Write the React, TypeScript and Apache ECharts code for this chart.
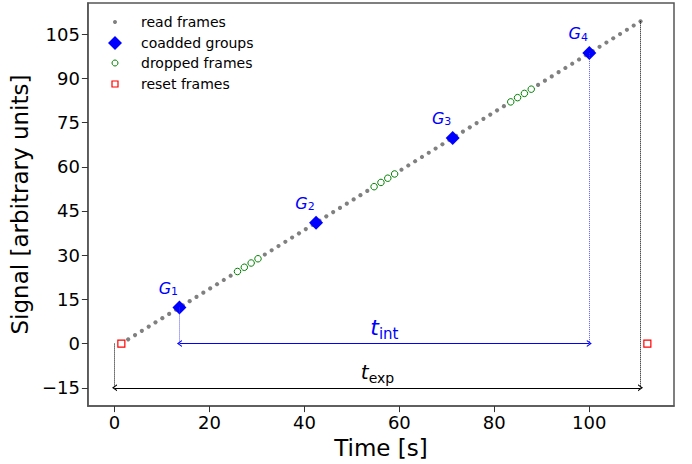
import React, { useEffect, useRef } from 'react';
import * as echarts from 'echarts';

// ---- data ----
const readTime = [
  2.88, 4.32, 5.76, 7.2, 8.63, 10.07, 11.51, 12.95, 14.39, 15.83, 17.27, 18.71, 20.15, 21.59, 23.02, 24.46,
  31.66, 33.1, 34.54, 35.98, 37.41, 38.85, 40.29, 41.73, 43.17, 44.61, 46.05, 47.49, 48.93, 50.37, 51.8, 53.24,
  60.44, 61.88, 63.32, 64.76, 66.19, 67.63, 69.07, 70.51, 71.95, 73.39, 74.83, 76.27, 77.71, 79.15, 80.58, 82.02,
  89.22, 90.66, 92.1, 93.54, 94.97, 96.41, 97.85, 99.29, 100.73, 102.17, 103.61, 105.05, 106.49, 107.93, 109.36, 110.8,
];
const readSignal = [
  1.44, 2.88, 4.32, 5.76, 7.2, 8.63, 10.07, 11.51, 12.95, 14.39, 15.83, 17.27, 18.71, 20.15, 21.59, 23.02,
  30.22, 31.66, 33.1, 34.54, 35.98, 37.41, 38.85, 40.29, 41.73, 43.17, 44.61, 46.05, 47.49, 48.93, 50.37, 51.8,
  59.0, 60.44, 61.88, 63.32, 64.76, 66.19, 67.63, 69.07, 70.51, 71.95, 73.39, 74.83, 76.27, 77.71, 79.15, 80.58,
  87.78, 89.22, 90.66, 92.1, 93.54, 94.97, 96.41, 97.85, 99.29, 100.73, 102.17, 103.61, 105.05, 106.49, 107.93, 109.36,
];
const droppedTime = [25.9, 27.34, 28.78, 30.22, 54.68, 56.12, 57.56, 59.0, 83.46, 84.9, 86.34, 87.78];
const droppedSignal = [24.46, 25.9, 27.34, 28.78, 53.24, 54.68, 56.12, 57.56, 82.02, 83.46, 84.9, 86.34];
const groupTime = [13.67, 42.45, 71.23, 100.01];
const groupSignal = [12.23, 41.01, 69.79, 98.57];
const groupNames = ['1', '2', '3', '4'];
const resetTime = [1.44, 112.24];
const resetSignal = [0, 0];

const expStart = 0;
const expEnd = 110.8;
const expLevel = -15;
const intLevel = 0;

const xTicks = [0, 20, 40, 60, 80, 100];
const yTicks = [-15, 0, 15, 30, 45, 60, 75, 90, 105];
const xRange = [-5.61, 117.85];
const yRange = [-21.22, 115.58];

const FONT = 'DejaVu Sans';

const pairs = (xs: number[], ys: number[]) => xs.map((x, i) => [x, ys[i]]);

export default function App() {
  const ref = useRef<HTMLDivElement>(null);
  useEffect(() => {
    if (!ref.current) return;
    const chart = echarts.init(ref.current, undefined, { renderer: 'svg' });
    const intStart = groupTime[0];
    const intEnd = groupTime[groupTime.length - 1];
    const lastSignal = readSignal[readSignal.length - 1];
    const chev = 'path://M0,10 L5,0 L10,10 L8.2,10 L5,3.6 L1.8,10 Z';
    const dotBlack = { color: '#000', width: 1, type: 'dotted' as const };
    const dotBlue = { color: '#3333ff', width: 1, type: 'dotted' as const, opacity: 0.8 };
    const minus = (v: number) => String(v).replace('-', '\u2212');
    const axisColor = '#555';

    const option: any = {
      animation: false,
      grid: {
        left: 87, top: 3, width: 587, height: 404,
        show: true, borderColor: axisColor, borderWidth: 1.5,
      },
      xAxis: {
        type: 'value', min: xRange[0], max: xRange[1],
        name: 'Time [s]', nameLocation: 'middle', nameGap: 26,
        nameTextStyle: { fontFamily: FONT, fontSize: 23, color: '#000' },
        axisLine: { show: true, onZero: false, lineStyle: { color: axisColor, width: 1.5 } },
        axisTick: { show: true, inside: false, length: 6, customValues: xTicks, lineStyle: { color: '#333', width: 1 } },
        axisLabel: { customValues: xTicks, fontFamily: FONT, fontSize: 18, color: '#000', margin: 7, formatter: minus },
        splitLine: { show: false },
      },
      yAxis: {
        type: 'value', min: yRange[0], max: yRange[1],
        name: 'Signal [arbitrary units]', nameLocation: 'middle', nameGap: 43,
        nameTextStyle: { fontFamily: FONT, fontSize: 23, color: '#000' },
        axisLine: { show: true, onZero: false, lineStyle: { color: axisColor, width: 1.5 } },
        axisTick: { show: true, inside: false, length: 6, customValues: yTicks, lineStyle: { color: '#333', width: 1 } },
        axisLabel: { customValues: yTicks, fontFamily: FONT, fontSize: 18, color: '#000', margin: 8, formatter: minus },
        splitLine: { show: false },
      },
      series: [
        {
          type: 'scatter', name: 'read frames', data: pairs(readTime, readSignal),
          symbol: 'circle', symbolSize: 4.2, itemStyle: { color: '#808080', opacity: 1 }, z: 2, silent: true,
          markLine: {
            silent: true, symbol: ['none', 'none'], label: { show: false }, animation: false,
            emphasis: { disabled: true },
            data: [
              [{ coord: [expStart, intLevel], lineStyle: dotBlack }, { coord: [expStart, expLevel] }],
              [{ coord: [expEnd, lastSignal], lineStyle: dotBlack }, { coord: [expEnd, expLevel] }],
              [{ coord: [intStart, groupSignal[0]], lineStyle: dotBlue }, { coord: [intStart, intLevel] }],
              [{ coord: [intEnd, groupSignal[groupSignal.length - 1]], lineStyle: dotBlue }, { coord: [intEnd, intLevel] }],
              [
                { coord: [intStart, intLevel], symbol: chev, symbolSize: [7, 5], lineStyle: { color: '#0000ff', width: 1.2, type: 'solid' } },
                { coord: [intEnd, intLevel], symbol: chev, symbolSize: [7, 5] },
              ],
              [
                { coord: [expStart, expLevel], symbol: chev, symbolSize: [7, 5], lineStyle: { color: '#000', width: 1.2, type: 'solid' } },
                { coord: [expEnd, expLevel], symbol: chev, symbolSize: [7, 5] },
              ],
            ],
          },
        },
        {
          type: 'scatter', name: 'dropped frames', data: pairs(droppedTime, droppedSignal),
          symbol: 'circle', symbolSize: 6.5, z: 3, silent: true,
          itemStyle: { color: 'rgba(255,255,255,0)', borderColor: '#008000', borderWidth: 1, opacity: 1 },
        },
        {
          type: 'scatter', name: 'coadded groups', data: pairs(groupTime, groupSignal),
          symbol: 'diamond', symbolSize: 14, z: 4, silent: true,
          itemStyle: { color: '#0000ff', opacity: 1 },
          label: {
            show: true, position: 'inside', offset: [-11, -16],
            formatter: (p: any) => `{g|G}{s|${groupNames[p.dataIndex]}}`,
            rich: {
              g: { fontFamily: FONT, fontStyle: 'italic', fontSize: 16, lineHeight: 16, verticalAlign: 'top', color: '#0000ff' },
              s: { fontFamily: FONT, fontSize: 11, lineHeight: 23, color: '#0000ff' },
            },
          },
        },
        {
          type: 'scatter', name: 'reset frames', data: pairs(resetTime, resetSignal),
          symbol: 'rect', symbolSize: 7, z: 5, silent: true,
          itemStyle: { color: 'rgba(255,255,255,0)', borderColor: '#ff0000', borderWidth: 1.2, opacity: 1 },
        },
        {
          type: 'scatter', name: 'annotations', symbolSize: 0, silent: true, z: 6,
          itemStyle: { color: 'rgba(0,0,0,0)', opacity: 1 },
          label: { show: true, position: 'inside' },
          data: [
            {
              value: [(intStart + intEnd) / 2, intLevel],
              label: {
                formatter: '{t|t}{s|int}', offset: [0, -9.5],
                rich: {
                  t: { fontFamily: FONT, fontStyle: 'italic', fontSize: 22, lineHeight: 22, verticalAlign: 'top', color: '#0000ff' },
                  s: { fontFamily: FONT, fontSize: 15, lineHeight: 35, color: '#0000ff' },
                },
              },
            },
            {
              value: [(expStart + expEnd) / 2, expLevel],
              label: {
                formatter: '{t|t}{s|exp}', offset: [0, -10],
                rich: {
                  t: { fontFamily: FONT, fontStyle: 'italic', fontSize: 20, lineHeight: 20, verticalAlign: 'top', color: '#000' },
                  s: { fontFamily: FONT, fontSize: 14, lineHeight: 32, color: '#000' },
                },
              },
            },
          ],
        },
      ],
      graphic: [
        { type: 'circle', shape: { cx: 115, cy: 22, r: 2 }, style: { fill: '#808080' } },
        { type: 'polygon', shape: { points: [[115, 36], [122, 43], [115, 50], [108, 43]] }, style: { fill: '#0000ff' } },
        { type: 'circle', shape: { cx: 115, cy: 63, r: 3 }, style: { fill: 'none', stroke: '#008000', lineWidth: 1 } },
        { type: 'rect', shape: { x: 112, y: 81, width: 6, height: 6 }, style: { fill: 'none', stroke: '#ff0000', lineWidth: 1.2 } },
        ...['read frames', 'coadded groups', 'dropped frames', 'reset frames'].map((t, i) => ({
          type: 'text', x: 141, y: [22, 43, 63, 84][i],
          style: { text: t, fontFamily: FONT, fontSize: 14, fill: '#000', verticalAlign: 'middle', align: 'left' },
        })),
      ],
    };
    chart.setOption(option);
    return () => chart.dispose();
  }, []);
  return (
    <div
      ref={ref}
      style={{ position: 'fixed', left: 0, top: 0, width: 692, height: 464, background: '#fff' }}
    />
  );
}
